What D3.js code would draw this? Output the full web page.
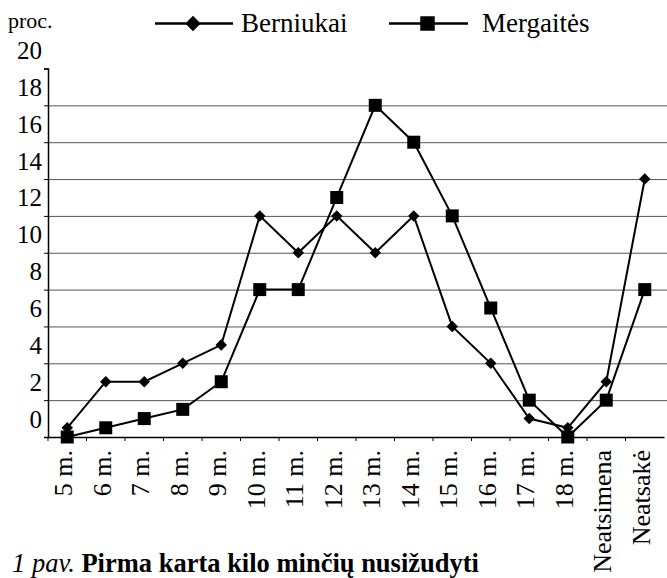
<!DOCTYPE html>
<html>
<head>
<meta charset="utf-8">
<script src="https://cdn.jsdelivr.net/npm/d3@7"></script>
<style>
  body { margin: 0; background: #fff; }
  svg { display: block; font-family: "Liberation Serif", "Times New Roman", serif; }
  .grid line { stroke: #555; stroke-width: 1; }
  .grid path { display: none; }
</style>
</head>
<body>
<svg width="667" height="578"></svg>
<script>
const categories = ['5 m.', '6 m.', '7 m.', '8 m.', '9 m.', '10 m.', '11 m.', '12 m.', '13 m.', '14 m.', '15 m.', '16 m.', '17 m.', '18 m.', 'Neatsimena', 'Neatsakė'];
const berniukai = [0.5, 3, 3, 4, 5, 12, 10, 12, 10, 12, 6, 4, 1, 0.5, 3, 14];
const mergaites = [0, 0.5, 1, 1.5, 3, 8, 8, 13, 18, 16, 12, 7, 2, 0, 2, 8];
const yTicks = [0, 2, 4, 6, 8, 10, 12, 14, 16, 18, 20];

const svg = d3.select('svg');
const serif = '"Liberation Serif", "Times New Roman", serif';

const plotLeft = 48;
const plotRight = 664;
const plotTop = 68.5;
const plotBottom = 437;

const xScale = d3.scaleBand()
    .domain(categories)
    .range([plotLeft, plotRight]);

const yScale = d3.scaleLinear()
    .domain([0, 20])
    .range([plotBottom, plotTop]);

// horizontal grid lines
svg.append('g')
    .attr('class', 'grid')
    .attr('transform', `translate(${plotLeft}, 0)`)
    .call(d3.axisLeft(yScale)
        .tickValues(yTicks.filter(t => t > 0 && t < 20))
        .tickSize(-(667 - plotLeft))
        .tickFormat('')
    );

// y axis (labels sit a little above their lines, as in the print)
const yAxis = svg.append('g')
    .attr('transform', `translate(${plotLeft}, 0)`)
    .call(d3.axisLeft(yScale)
        .tickValues(yTicks)
        .tickSize(4)
        .tickPadding(2)
        .tickFormat(d3.format('d'))
    )
    .attr('font-family', serif)
    .attr('font-size', 25);
yAxis.select('.domain').attr('stroke', '#000').attr('stroke-width', 1.5);
yAxis.selectAll('.tick text').attr('dy', '-0.4em').attr('fill', '#000');

// x axis
const xAxis = svg.append('g')
    .attr('transform', `translate(0, ${plotBottom})`)
    .call(d3.axisBottom(xScale).tickSize(0).tickFormat(''));
xAxis.select('.domain').attr('stroke', '#000').attr('stroke-width', 1.5);

// tick marks between categories
svg.append('g')
    .selectAll('line')
    .data(categories)
    .enter()
    .append('line')
    .attr('x1', d => xScale(d))
    .attr('x2', d => xScale(d))
    .attr('y1', plotBottom)
    .attr('y2', plotBottom + 4)
    .attr('stroke', '#000');

// rotated category labels
svg.append('g')
    .selectAll('text')
    .data(categories)
    .enter()
    .append('text')
    .attr('transform', d => `translate(${xScale(d) + xScale.bandwidth() / 2 + 5}, ${plotBottom + 13}) rotate(-90)`)
    .attr('text-anchor', 'end')
    .attr('font-size', 26)
    .text(d => d);

const cx = (d, i) => xScale(categories[i]) + xScale.bandwidth() / 2;

const line = d3.line()
    .x((d, i) => cx(d, i))
    .y(d => yScale(d));

svg.append('path')
    .datum(berniukai)
    .attr('d', line)
    .attr('fill', 'none')
    .attr('stroke', '#000')
    .attr('stroke-width', 2);

svg.append('path')
    .datum(mergaites)
    .attr('d', line)
    .attr('fill', 'none')
    .attr('stroke', '#000')
    .attr('stroke-width', 2);

const diamond = d3.symbol().type(d3.symbolDiamond2).size(85);
const square = d3.symbol().type(d3.symbolSquare).size(169);

svg.append('g')
    .selectAll('path')
    .data(berniukai)
    .enter()
    .append('path')
    .attr('d', diamond)
    .attr('transform', (d, i) => `translate(${cx(d, i)}, ${yScale(d)})`)
    .attr('fill', '#000');

svg.append('g')
    .selectAll('path')
    .data(mergaites)
    .enter()
    .append('path')
    .attr('d', square)
    .attr('transform', (d, i) => `translate(${cx(d, i)}, ${yScale(d)})`)
    .attr('fill', '#000');

// unit label
svg.append('text')
    .attr('x', 8)
    .attr('y', 28)
    .attr('font-size', 22)
    .text('proc.');

// legend
const legend = [
    { name: 'Berniukai', x1: 155, x2: 233, mid: 193, textX: 241, sym: d3.symbol().type(d3.symbolDiamond2).size(150) },
    { name: 'Mergaitės', x1: 389, x2: 468, mid: 427.5, textX: 482, sym: d3.symbol().type(d3.symbolSquare).size(210) }
];

legend.forEach(l => {
    svg.append('line')
        .attr('x1', l.x1)
        .attr('x2', l.x2)
        .attr('y1', 23.5)
        .attr('y2', 23.5)
        .attr('stroke', '#000')
        .attr('stroke-width', 2.5);
    svg.append('path')
        .attr('d', l.sym)
        .attr('transform', `translate(${l.mid}, 23.5)`)
        .attr('fill', '#000');
    svg.append('text')
        .attr('x', l.textX)
        .attr('y', 32)
        .attr('font-size', 27)
        .text(l.name);
});

// caption
const caption = svg.append('text')
    .attr('x', 12)
    .attr('y', 572)
    .attr('font-size', 26.5);
caption.append('tspan')
    .attr('font-style', 'italic')
    .text('1 pav. ');
caption.append('tspan')
    .attr('font-weight', 'bold')
    .text('Pirma karta kilo minčių nusižudyti');
</script>
</body>
</html>
